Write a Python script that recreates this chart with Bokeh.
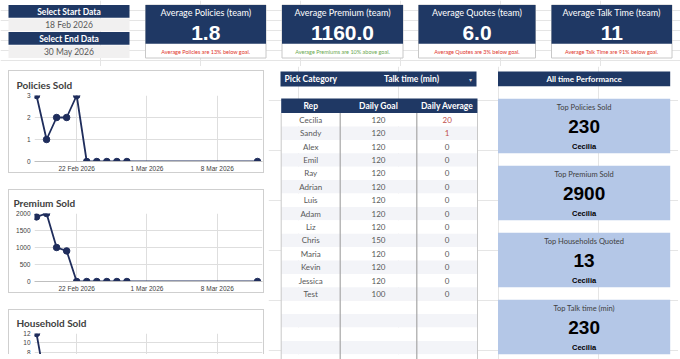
import pandas as pd
from bokeh.plotting import figure
from bokeh.layouts import column, row
from bokeh.models import Range1d, FixedTicker
from bokeh.core.properties import value
from bokeh.embed import file_html
from bokeh.resources import INLINE

# ---------------- data ----------------
start_label = "Select Start Data"
end_label = "Select End Data"
start_date = "18 Feb 2026"
end_date = "30 May 2026"

kpi_titles = ["Average Policies (team)", "Average Premium (team)",
              "Average Quotes (team)", "Average Talk Time (team)"]
kpi_values = ["1.8", "1160.0", "6.0", "11"]
kpi_notes = ["Average Policies are 13% below goal.",
             "Average Premiums are 10% above goal.",
             "Average Quotes are 3% below goal.",
             "Average Talk Time are 91% below goal."]
kpi_above_goal = [False, True, False, False]

chart_titles = ["Policies Sold", "Premium Sold", "Household Sold"]
dates = ["2026-02-18", "2026-02-19", "2026-02-20", "2026-02-21", "2026-02-22",
         "2026-02-23", "2026-02-24", "2026-02-25", "2026-02-26", "2026-02-27",
         "2026-03-12"]
policies_sold = [3, 1, 2, 2, 3, 0, 0, 0, 0, 0, 0]
premium_sold = [1900, 2000, 1000, 900, 0, 0, 0, 0, 0, 0, 0]
household_sold = [12, 0, 0, 0, 0, 0, 0, 0, 0, 0, 0]
tick_dates = ["2026-02-22", "2026-03-01", "2026-03-08"]
tick_labels = ["22 Feb 2026", "1 Mar 2026", "8 Mar 2026"]
policies_ticks = [0, 1, 2, 3]
premium_ticks = [0, 500, 1000, 1500, 2000]
household_ticks = [8, 10, 12]

category_label = "Pick Category"
category = "Talk time (min)"
table_columns = ["Rep", "Daily Goal", "Daily Average"]
reps = ["Cecilia", "Sandy", "Alex", "Emil", "Ray", "Adrian", "Luis", "Adam",
        "Liz", "Chris", "Maria", "Kevin", "Jessica", "Test"]
daily_goal = [120, 120, 120, 120, 120, 120, 120, 120, 120, 150, 120, 120, 120, 100]
daily_average = [20, 1, 0, 0, 0, 0, 0, 0, 0, 0, 0, 0, 0, 0]

perf_header = "All time Performance"
perf_titles = ["Top Policies Sold", "Top Premium Sold",
               "Top Households Quoted", "Top Talk time (min)"]
perf_values = [230, 2900, 13, 230]
perf_names = ["Cecilia", "Cecilia", "Cecilia", "Cecilia"]

# ---------------- styles ----------------
NAVY = "#1f3864"
LINE = "#1f2d5c"
GRAYTXT = "#595959"
LIGHTBOX = "#f1f0f0"
CARD = "#b4c7e7"
RED = "#e0352b"
GREEN = "#6aa84f"
UI = "Lato"
COND = "Liberation Sans"
AXF = "Liberation Sans"


def px_fig(x0, x1, y0, y1):
    p = figure(width=x1 - x0, height=y1 - y0, x_range=Range1d(x0, x1),
               y_range=Range1d(y1, y0), output_backend="svg",
               toolbar_location=None, min_border=0,
               x_axis_location=None, y_axis_location=None)
    p.outline_line_color = None
    p.background_fill_color = "white"
    p.border_fill_color = "white"
    return p


def txt(p, x, y, s, size, color, font=UI, bold=False, align="center"):
    p.text(x=[x], y=[y], text=[s], text_font=value(font),
           text_font_size=f"{size}px", text_color=color,
           text_font_style="bold" if bold else "normal",
           text_align=align, text_baseline="middle")


def box(p, l, r, t, b, fill, line=None):
    p.quad(left=[l], right=[r], top=[t], bottom=[b], fill_color=fill,
           line_color=line, line_width=1)


# ---------------- top strip ----------------
top = px_fig(0, 680, 0, 66)
sel = [(4.5, 17.3, NAVY, start_label, "white", True),
       (18.0, 30.7, LIGHTBOX, start_date, GRAYTXT, False),
       (31.5, 44.2, NAVY, end_label, "white", True),
       (45.0, 57.5, LIGHTBOX, end_date, GRAYTXT, False)]
for t, b, fill, s, col, bold in sel:
    box(top, 8, 129, t, b, fill)
    txt(top, 68.5, (t + b) / 2 + 0.3, s, 8.5, col, bold=bold)

card_l = [145, 281.5, 418, 551]
card_r = [265.5, 402.5, 535, 671.5]
for i in range(4):
    l, r = card_l[i], card_r[i]
    cx = (l + r) / 2
    box(top, l, r, 4.5, 57.5, "white", "#c8c8c8")
    box(top, l, r, 4.5, 43.3, NAVY)
    txt(top, cx, 12, kpi_titles[i], 9, "white")
    txt(top, cx, 32.3, kpi_values[i], 21, "white", font=COND, bold=True)
    txt(top, cx, 51, kpi_notes[i], 5.5, GREEN if kpi_above_goal[i] else RED)

# ---------------- line charts ----------------
base = pd.Timestamp(dates[0])


def offs(ds):
    return [(pd.Timestamp(d) - base).days for d in ds]


def line_chart(title, vals, yr, yticks, w, h, mbl, mbt, mbb, standoff, show_x=True):
    x = offs(dates)
    p = figure(width=w, height=h, x_range=Range1d(-0.2, 22.5), y_range=Range1d(*yr),
               output_backend="svg", toolbar_location=None,
               min_border_left=mbl, min_border_right=3, min_border_top=mbt,
               min_border_bottom=mbb)
    p.title.text = title
    p.title.text_font = UI
    p.title.text_font_size = "10px"
    p.title.text_font_style = "bold"
    p.title.text_color = "#404040"
    p.title.offset = -(mbl - 4)
    p.title.standoff = standoff
    p.outline_line_color = None
    p.background_fill_color = "white"
    p.border_fill_color = "white"
    p.line(x, vals, line_color=LINE, line_width=1.8)
    p.scatter(x, vals, size=6.5, fill_color=LINE, line_color=LINE)
    tk = offs(tick_dates)
    p.xaxis.ticker = FixedTicker(ticks=tk)
    p.xaxis.major_label_overrides = {k: s for k, s in zip(tk, tick_labels)}
    p.yaxis.ticker = FixedTicker(ticks=yticks)
    for ax in (p.xaxis, p.yaxis):
        ax.major_tick_line_color = None
        ax.minor_tick_line_color = None
        ax.major_tick_out = 0
        ax.major_tick_in = 0
        ax.minor_tick_out = 0
        ax.minor_tick_in = 0
        ax.major_label_text_font = AXF
        ax.major_label_text_font_size = "6.5px"
        ax.major_label_text_color = "#404040"
    p.yaxis.axis_line_color = None
    p.xaxis.axis_line_color = "#bfbfbf"
    p.xaxis.major_label_standoff = 3
    p.yaxis.major_label_standoff = 4
    p.grid.grid_line_color = "#dedede"
    if not show_x:
        p.xaxis.visible = False
    return p


c1 = line_chart(chart_titles[0], policies_sold, (0, 3), policies_ticks, 256, 103, 22, 22, 13, 10)
c2 = line_chart(chart_titles[1], premium_sold, (0, 2000), premium_ticks, 256, 104, 25, 22, 13, 9)
c3 = line_chart(chart_titles[2], household_sold, (7.3, 12), household_ticks, 256, 45, 22, 20, 0, 9,
                show_x=False)
c1.styles = {"border": "1px solid #cfcfcf"}
c2.styles = {"border": "1px solid #cfcfcf"}
c3.styles = {"border": "1px solid #cfcfcf", "border-bottom": "none"}
c1.margin = (4, 4, 0, 8)
c2.margin = (16, 4, 0, 8)
c3.margin = (16, 4, 0, 8)
left = column(c1, c2, c3)

# ---------------- right panel ----------------
rp = px_fig(270, 680, 66, 359)

# pick category
box(rp, 282, 478, 71, 86, NAVY)
txt(rp, 286, 78.8, category_label, 8.5, "white", bold=True, align="left")
txt(rp, 413, 78.5, category, 8.5, "white", bold=True)
txt(rp, 472, 78.8, "\u25BE", 6, "#d0d0d0")

# table
tl, tr = 282.7, 479
seps = [341.7, 418.3]
col_edges = [tl] + seps + [tr]
head_t, head_b = 98, 112.6
row_h = 13.4
box(rp, tl, tr, head_t, head_b, NAVY)
for j, name in enumerate(table_columns):
    txt(rp, (col_edges[j] + col_edges[j + 1]) / 2, (head_t + head_b) / 2 + 0.3, name, 8.5,
        "white", bold=True)
n_rows = 19
for i in range(n_rows):
    t = head_b + i * row_h
    box(rp, tl, tr, t, t + row_h, "white" if i % 2 == 0 else "#f3f4f8")
for x in col_edges:
    rp.segment(x0=[x], x1=[x], y0=[head_b], y1=[359], line_color="#a6a6a6" if x in seps else "#c8c8c8",
               line_width=1.2 if x in seps else 1)
for i, name in enumerate(reps):
    cy = head_b + (i + 0.5) * row_h
    txt(rp, (col_edges[0] + col_edges[1]) / 2, cy, name, 8, GRAYTXT)
    txt(rp, (col_edges[1] + col_edges[2]) / 2, cy, str(daily_goal[i]), 8, GRAYTXT)
    txt(rp, (col_edges[2] + col_edges[3]) / 2, cy, str(daily_average[i]), 8,
        "#c0504d" if daily_average[i] > 0 else GRAYTXT)

# all time performance
pl, pr = 499.5, 671.7
pcx = (pl + pr) / 2
box(rp, pl, pr, 71, 85.7, NAVY)
txt(rp, pcx, 78.6, perf_header, 8, "white", bold=True)
card_tops = [98.3, 165.3, 232.3, 299.3]
card_h = 54.5
for i in range(4):
    t = card_tops[i]
    box(rp, pl, pr, t, t + card_h, CARD)
    txt(rp, pcx, t + 8.5, perf_titles[i], 7.5, "#404040")
    txt(rp, pcx, t + 28, str(perf_values[i]), 19, "black", font=COND, bold=True)
    txt(rp, pcx, t + 47.5, perf_names[i], 7.5, "black", font=COND, bold=True)

layout = column(top, row(left, rp))
open("out.html", "w").write(file_html(layout, INLINE))
